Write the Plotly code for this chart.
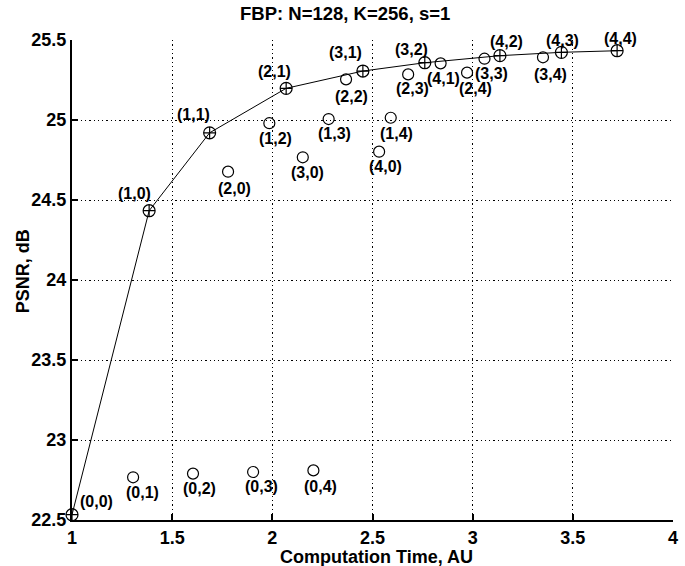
import plotly.graph_objects as go

# ---- data ----
labels = ["(0,0)", "(0,1)", "(0,2)", "(0,3)", "(0,4)",
          "(1,0)", "(1,1)", "(1,2)", "(1,3)", "(1,4)",
          "(2,0)", "(2,1)", "(2,2)", "(2,3)", "(2,4)",
          "(3,0)", "(3,1)", "(3,2)", "(3,3)", "(3,4)",
          "(4,0)", "(4,1)", "(4,2)", "(4,3)", "(4,4)"]
comp_time = [1.000, 1.305, 1.604, 1.904, 2.205,
             1.385, 1.687, 1.985, 2.281, 2.591,
             1.779, 2.069, 2.368, 2.678, 2.972,
             2.152, 2.452, 2.761, 3.059, 3.351,
             2.533, 2.840, 3.136, 3.443, 3.721]
psnr = [22.533, 22.767, 22.790, 22.800, 22.810,
        24.433, 24.920, 24.980, 25.006, 25.014,
        24.677, 25.198, 25.254, 25.285, 25.296,
        24.767, 25.306, 25.358, 25.383, 25.392,
        24.802, 25.354, 25.402, 25.423, 25.433]
frontier = ["(0,0)", "(1,0)", "(1,1)", "(2,1)", "(3,1)", "(3,2)", "(4,2)", "(4,3)", "(4,4)"]
x_ticks = [1, 1.5, 2, 2.5, 3, 3.5, 4]
y_ticks = [22.5, 23, 23.5, 24, 24.5, 25, 25.5]

# ---- label offsets (pixels, style) ----
label_shift = {
    "(0,0)": (24, 13), "(0,1)": (9, -15), "(0,2)": (6, -15), "(0,3)": (8, -14), "(0,4)": (7, -16),
    "(1,0)": (-15, 17), "(1,1)": (-16, 18), "(1,2)": (6, -15), "(1,3)": (6, -14), "(1,4)": (6, -16),
    "(2,0)": (6, -17), "(2,1)": (-12, 17), "(2,2)": (5, -17), "(2,3)": (4, -14), "(2,4)": (8, -16),
    "(3,0)": (5, -15), "(3,1)": (-17, 19), "(3,2)": (-13, 13), "(3,3)": (7, -15), "(3,4)": (8, -17),
    "(4,0)": (6, -15), "(4,1)": (3, -15), "(4,2)": (7, 14), "(4,3)": (1, 12), "(4,4)": (3, 12),
}

FONT = "Liberation Sans, Arial, Helvetica, sans-serif"

idx = {lab: i for i, lab in enumerate(labels)}
fx = [comp_time[idx[l]] for l in frontier]
fy = [psnr[idx[l]] for l in frontier]
ox = [comp_time[i] for i, l in enumerate(labels) if l not in frontier]
oy = [psnr[i] for i, l in enumerate(labels) if l not in frontier]

fig = go.Figure()
fig.add_trace(go.Scatter(
    x=fx, y=fy, mode="lines+markers",
    line=dict(color="black", width=1),
    marker=dict(symbol="circle-cross-open", size=12, color="black", line=dict(width=1.2)),
    cliponaxis=False, showlegend=False))
fig.add_trace(go.Scatter(
    x=ox, y=oy, mode="markers",
    marker=dict(symbol="circle-open", size=11, color="black", line=dict(width=1.2)),
    cliponaxis=False, showlegend=False))

for i, lab in enumerate(labels):
    dx, dy = label_shift[lab]
    fig.add_annotation(x=comp_time[i], y=psnr[i], text="<b>%s</b>" % lab,
                       showarrow=False, xshift=dx, yshift=dy,
                       font=dict(family=FONT, size=16, color="black"))

fig.add_annotation(xref="paper", yref="paper", x=0.455, y=1.056, text="<b>FBP: N=128, K=256, s=1</b>",
                   showarrow=False, xanchor="center", yanchor="middle",
                   font=dict(family=FONT, size=18.5, color="black"))
fig.add_annotation(xref="paper", yref="paper", x=0.507, y=-0.077, text="<b>Computation Time, AU</b>",
                   showarrow=False, xanchor="center", yanchor="middle",
                   font=dict(family=FONT, size=18, color="black"))
fig.add_annotation(xref="paper", yref="paper", x=-0.0825, y=0.519, text="<b>PSNR, dB</b>",
                   showarrow=False, xanchor="center", yanchor="middle", textangle=-90,
                   font=dict(family=FONT, size=18, color="black"))

axis_common = dict(showline=True, linecolor="black", linewidth=2,
                   ticks="inside", ticklen=6, tickwidth=1.5, tickcolor="black",
                   showgrid=True, gridcolor="black", gridwidth=1.3, griddash="1.3px,3px",
                   zeroline=False, mirror=False,
                   tickfont=dict(family=FONT, size=18, color="black"))

fig.update_xaxes(range=[1, 4], tickvals=x_ticks,
                 ticktext=["<b>%g</b>" % v for v in x_ticks], **axis_common)
fig.update_yaxes(range=[22.5, 25.5], tickvals=y_ticks,
                 ticktext=["<b>%g</b>" % v for v in y_ticks], **axis_common)

fig.update_layout(width=685, height=566,
                  margin=dict(l=72, r=7, t=40, b=46),
                  paper_bgcolor="white", plot_bgcolor="white",
                  showlegend=False)

fig.write_html("out.html", config={"displayModeBar": False},
               post_script="document.body.style.margin='0';document.body.style.padding='0';"
                           "document.body.style.overflow='hidden';")
